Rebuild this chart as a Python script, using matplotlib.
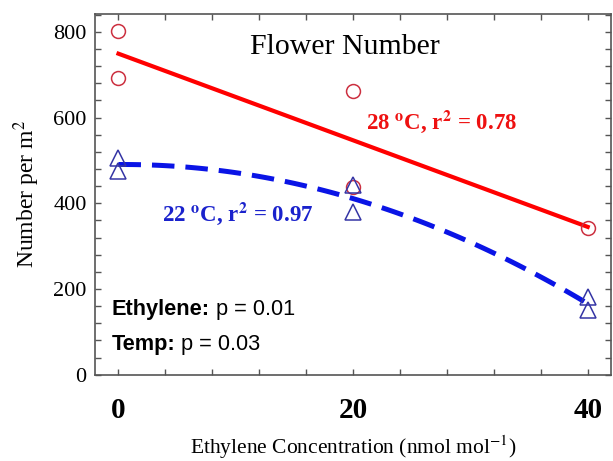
import matplotlib
matplotlib.use("Agg")
import matplotlib.pyplot as plt
import numpy as np
from matplotlib.ticker import MultipleLocator, FuncFormatter

plt.rcParams['font.family'] = ['Liberation Serif', 'DejaVu Serif']
plt.rcParams['mathtext.fontset'] = 'stix'

# ethylene concentration (nmol/mol) and flower counts per m2
x_28 = [0, 0, 20, 20, 40]
y_28 = [803, 693, 661, 437, 343]
x_22 = [0, 0, 20, 20, 40, 40]
y_22 = [505, 476, 442, 380, 182, 150]

xlabels_shown = [0, 20, 40]
ylabels_shown = [0, 200, 400, 600, 800]

fig = plt.figure(figsize=(6.13, 4.61), dpi=100)
ax = fig.add_axes([0.155, 0.187, 0.842, 0.783])

# fitted lines
xs = np.linspace(0, 40, 100)
red_fit = np.polyfit(x_28, y_28, 1)
blue_fit = np.polyfit(x_22, y_22, 2)
ax.plot(xs, np.polyval(red_fit, xs), color='#ff0000', lw=3.0, zorder=2)
ax.plot(xs, np.polyval(blue_fit, xs), color='#0a14e6', lw=3.6,
        dashes=(4.5, 2.2), zorder=2)

ax.plot(x_28, y_28, 'o', ms=10, mfc='none', mec='#cc3040', mew=1.1, zorder=3)
ax.plot(x_22, y_22, '^', ms=11, mfc='none', mec='#3535a5', mew=1.1, zorder=3)

ax.set_xlim(-2, 42)
ax.set_ylim(0, 842)
ax.xaxis.set_major_locator(MultipleLocator(4))
ax.yaxis.set_major_locator(MultipleLocator(40))
ax.xaxis.set_major_formatter(FuncFormatter(
    lambda v, p: f"{int(round(v))}" if round(v) in xlabels_shown else ""))
ax.yaxis.set_major_formatter(FuncFormatter(
    lambda v, p: f"{int(round(v))}" if round(v) in ylabels_shown else ""))
ax.tick_params(direction='in', length=4, width=1, color='#555555',
               top=True, right=True)
ax.tick_params(axis='y', labelsize=16, pad=6)
ax.tick_params(axis='x', labelsize=21, pad=16)
for lab in ax.get_xticklabels():
    lab.set_fontweight('bold')
for s in ax.spines.values():
    s.set_color('#555555')
    s.set_linewidth(1.2)

ax.set_ylabel('Number per m$^2$', fontsize=17, labelpad=8)
ax.set_xlabel('Ethylene Concentration (nmol mol$^{-1}$)', fontsize=15.5, labelpad=7)

ax.text(0.485, 0.908, 'Flower Number', transform=ax.transAxes, fontsize=21.5,
        ha='center', va='center')
ax.text(0.672, 0.7, '28 $^{\\mathbf{o}}$C, r$^{\\mathbf{2}}$ = 0.78', transform=ax.transAxes,
        fontsize=16.5, fontweight='bold', color='#ee1111', ha='center', va='center')
ax.text(0.277, 0.445, '22 $^{\\mathbf{o}}$C, r$^{\\mathbf{2}}$ = 0.97', transform=ax.transAxes,
        fontsize=16.5, fontweight='bold', color='#1a22cc', ha='center', va='center')

sans = ['Liberation Sans', 'DejaVu Sans']
t1 = ax.text(0.032, 0.166, 'Ethylene:', transform=ax.transAxes, fontsize=15.7,
             family=sans, fontweight='bold', va='baseline')
ax.annotate(' p = 0.01', xy=(1, 0), xycoords=t1, fontsize=15.7, family=sans,
            va='bottom')
t2 = ax.text(0.032, 0.07, 'Temp:', transform=ax.transAxes, fontsize=15.7,
             family=sans, fontweight='bold', va='baseline')
ax.annotate(' p = 0.03', xy=(1, 0), xycoords=t2, fontsize=15.7, family=sans,
            va='bottom')

fig.savefig('out.png', dpi=100)
